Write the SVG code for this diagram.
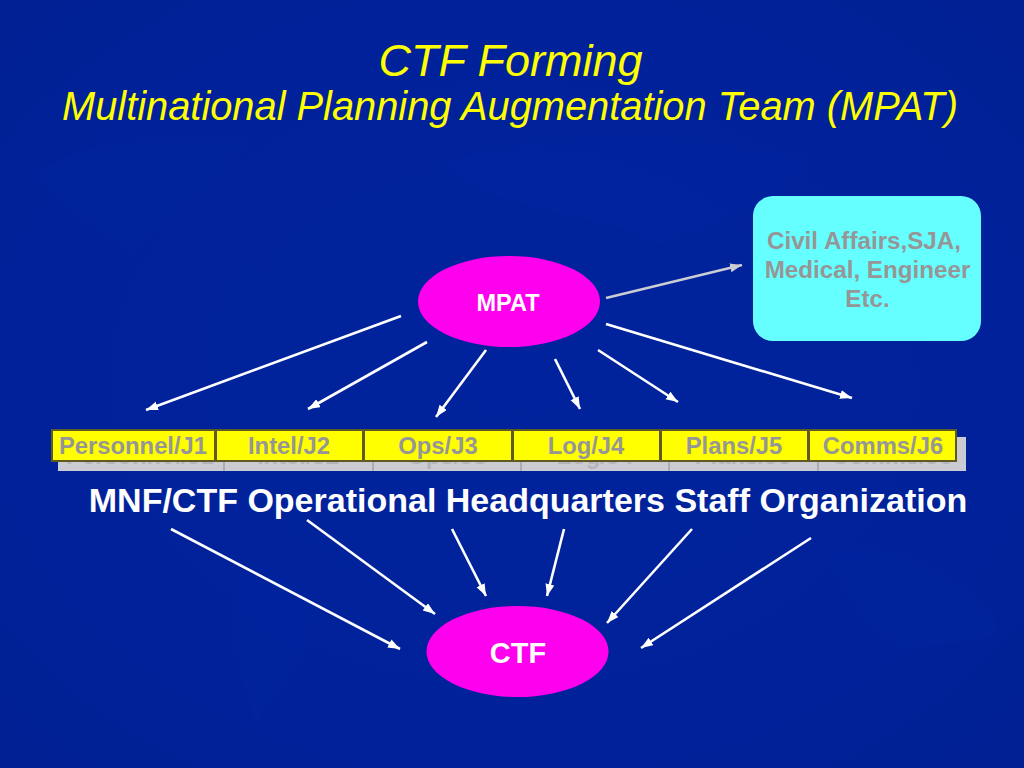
<svg xmlns="http://www.w3.org/2000/svg" width="1024" height="768" viewBox="0 0 1024 768">
<style>
text{font-family:"Liberation Sans",Arial,sans-serif;text-anchor:middle}
.title{fill:#ffff00;font-style:italic}
.conn line{stroke:#fff;stroke-width:2.600;marker-end:url(#ah)}
.cell{fill:#ffff00;stroke:#5f5a20;stroke-width:2}
.lab{fill:#969696;font-size:23.800px;font-weight:bold}
.sh{fill:#b4b4bc;font-size:23.800px;font-weight:bold}
.oval{fill:#ff00ee}
.map{fill:#0027a6;opacity:.3}
</style>
<defs>
<radialGradient id="bg" cx=".5" cy=".5" r=".72"><stop offset="0" stop-color="#00239d"/><stop offset=".7" stop-color="#002199"/><stop offset="1" stop-color="#002092"/></radialGradient>
<marker id="ah" markerUnits="userSpaceOnUse" markerWidth="14" markerHeight="10" refX="12" refY="4.500" orient="auto"><path d="M0 0L12 4.500L0 9Z" fill="#fff"/></marker>
<marker id="ahg" markerUnits="userSpaceOnUse" markerWidth="14" markerHeight="10" refX="12" refY="4.500" orient="auto"><path d="M0 0L12 4.500L0 9Z" fill="#ccccd4"/></marker>
</defs>
<rect width="1024" height="768" fill="url(#bg)"/>
<g id="worldmap" class="map">
<path d="M35 175C80 140 150 135 245 140C225 190 160 215 130 255C105 225 60 215 35 175Z"/>
<path d="M440 165C520 130 680 125 810 160C790 200 720 225 660 245C610 215 500 215 440 165Z"/>
<path d="M235 570C270 560 320 580 315 625C300 670 270 700 255 725C240 670 225 620 235 570Z"/>
<path d="M830 550C880 540 950 560 1000 625C990 650 940 640 900 650C860 620 840 590 830 550Z"/>
</g>
<g id="titles">
<text class="title" x="510.500" y="76" font-size="45">CTF Forming</text>
<text class="title" x="510" y="120" font-size="39.800">Multinational Planning Augmentation Team (MPAT)</text>
</g>
<g id="staff-shadow">
<rect x="58" y="437" width="908" height="34" fill="#cbcbd3"/>
<path d="M224 437V471M373 437V471M521 437V471M669 437V471M818 437V471" stroke="#8d8d95" stroke-width="1"/>
<g class="sh">
<text x="140" y="464">Personnel/J1</text><text x="298" y="464">Intel/J2</text><text x="447" y="464">Ops/J3</text><text x="595" y="464">Log/J4</text><text x="743" y="464">Plans/J5</text><text x="892" y="464">Comms/J6</text>
</g>
</g>
<g id="cell-j1"><rect class="cell" x="52" y="430" width="163" height="31"/><text class="lab" x="133" y="454">Personnel/J1</text></g>
<g id="cell-j2"><rect class="cell" x="216" y="430" width="147" height="31"/><text class="lab" x="289" y="454">Intel/J2</text></g>
<g id="cell-j3"><rect class="cell" x="364" y="430" width="148" height="31"/><text class="lab" x="438" y="454">Ops/J3</text></g>
<g id="cell-j4"><rect class="cell" x="513" y="430" width="147" height="31"/><text class="lab" x="586" y="454">Log/J4</text></g>
<g id="cell-j5"><rect class="cell" x="661" y="430" width="147" height="31"/><text class="lab" x="734" y="454">Plans/J5</text></g>
<g id="cell-j6"><rect class="cell" x="809" y="430" width="147" height="31"/><text class="lab" x="883" y="454">Comms/J6</text></g>
<g id="caption"><text x="528" y="512" font-size="34" font-weight="bold" fill="#fff">MNF/CTF Operational Headquarters Staff Organization</text></g>
<g id="mpat"><ellipse class="oval" cx="509" cy="301.500" rx="91" ry="45.500"/><text x="508" y="311" font-size="23.500" font-weight="bold" fill="#fff">MPAT</text></g>
<g id="ctf"><ellipse class="oval" cx="517.500" cy="651.500" rx="91" ry="45.500"/><text x="518" y="663" font-size="29" font-weight="bold" fill="#fff">CTF</text></g>
<g id="civil"><rect x="753" y="196" width="228" height="145" rx="20" fill="#66ffff"/>
<g font-size="24.200" font-weight="bold" fill="#969696"><text x="864" y="249">Civil Affairs,SJA,</text><text x="867.500" y="278">Medical, Engineer</text><text x="867.500" y="307">Etc.</text></g></g>
<g id="connectors" class="conn">
<line x1="606" y1="298" x2="742" y2="265" style="stroke:#ccccd4;marker-end:url(#ahg)"/>
<line x1="401" y1="316" x2="146" y2="410"/>
<line x1="427" y1="342" x2="308" y2="409"/>
<line x1="486" y1="350" x2="436" y2="417"/>
<line x1="555" y1="359" x2="580" y2="409"/>
<line x1="598" y1="350" x2="678" y2="402"/>
<line x1="606" y1="324" x2="852" y2="398"/>
<line x1="171" y1="529" x2="400" y2="649"/>
<line x1="307" y1="520" x2="435" y2="614"/>
<line x1="452" y1="529" x2="486" y2="596"/>
<line x1="564" y1="529" x2="547" y2="596"/>
<line x1="692" y1="529" x2="607" y2="623"/>
<line x1="811" y1="538" x2="641" y2="648"/>
</g>
</svg>
